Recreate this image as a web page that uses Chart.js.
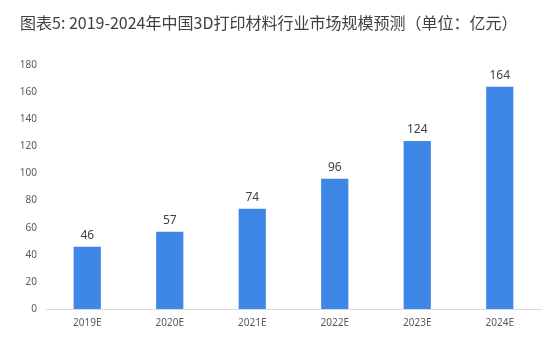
<!DOCTYPE html>
<html>
<head>
<meta charset="utf-8">
<script src="https://cdn.jsdelivr.net/npm/chart.js@4"></script>
<style>
  html, body { margin: 0; padding: 0; background: #ffffff; }
  #wrap { position: relative; width: 552px; height: 358px; }
  #title { position: absolute; left: 20px; top: 11px; font-family: "Noto Sans CJK SC", "Noto Sans", sans-serif; font-size: 16px; color: #404040; white-space: nowrap; line-height: 22px; }
</style>
</head>
<body>
<div id="wrap">
  <div id="title">图表5: 2019-2024年中国3D打印材料行业市场规模预测（单位：亿元）</div>
  <canvas id="c" width="552" height="358"></canvas>
</div>
<script>
const categories = ["2019E", "2020E", "2021E", "2022E", "2023E", "2024E"];
const marketSize = [46, 57, 74, 96, 124, 164];
const yTicks = [0, 20, 40, 60, 80, 100, 120, 140, 160, 180];

const valueLabels = {
  id: 'valueLabels',
  afterDatasetsDraw(chart) {
    const ctx = chart.ctx;
    const meta = chart.getDatasetMeta(0);
    ctx.save();
    ctx.font = '12px "Noto Sans", sans-serif';
    ctx.fillStyle = '#404040';
    ctx.textAlign = 'center';
    ctx.textBaseline = 'bottom';
    meta.data.forEach((bar, i) => {
      ctx.fillText(String(marketSize[i]), bar.x, bar.y - 5);
    });
    ctx.restore();
  }
};

new Chart(document.getElementById('c'), {
  type: 'bar',
  data: {
    labels: categories,
    datasets: [{
      data: marketSize,
      backgroundColor: '#3f87e6',
      barPercentage: 0.33,
      categoryPercentage: 1.0
    }]
  },
  options: {
    responsive: false,
    animation: false,
    layout: { padding: { top: 65, right: 11, bottom: 21, left: 0 } },
    plugins: { legend: { display: false }, tooltip: { enabled: false }, title: { display: false } },
    scales: {
      x: {
        grid: { display: false, drawTicks: false },
        border: { display: true, color: '#d9d9d9', width: 1 },
        ticks: { color: '#595959', font: { size: 10, family: '"Noto Sans", sans-serif' }, padding: 8 }
      },
      y: {
        min: 0, max: 180,
        afterBuildTicks: (s) => { s.ticks = yTicks.map(v => ({ value: v })); },
        afterFit: (s) => { s.width = 46; },
        grid: { display: false, drawTicks: false },
        border: { display: false },
        ticks: { color: '#595959', font: { size: 10, family: '"Noto Sans", sans-serif' }, padding: 9 }
      }
    }
  },
  plugins: [valueLabels]
});
</script>
</body>
</html>
